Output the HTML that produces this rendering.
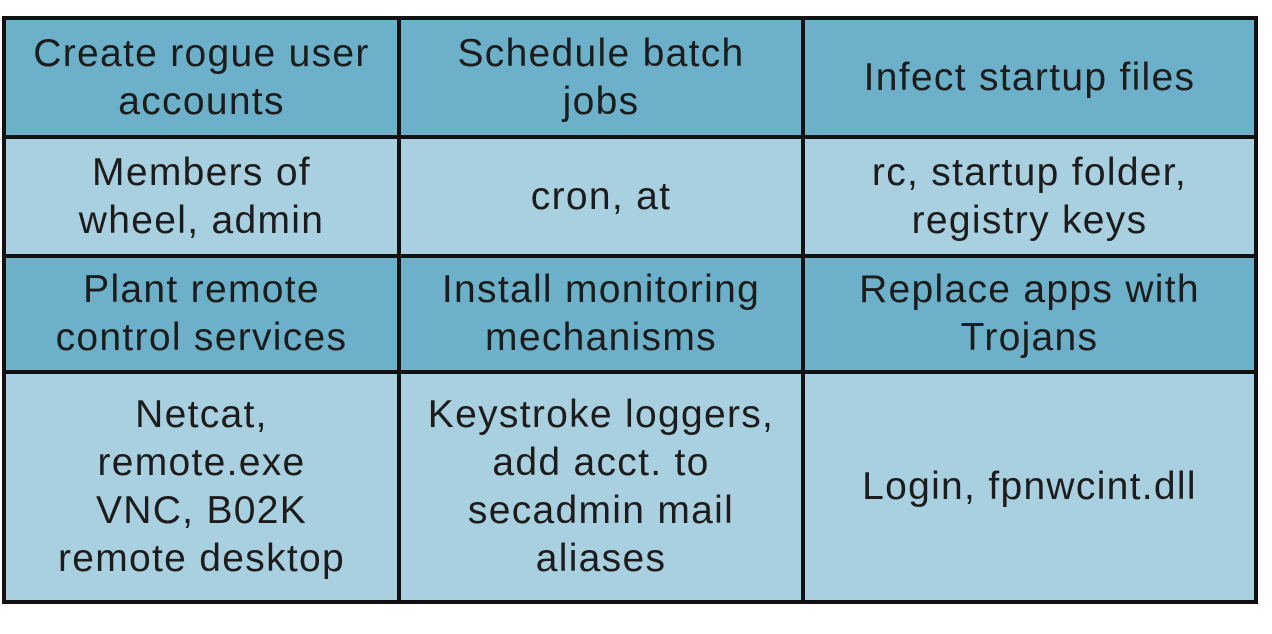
<!DOCTYPE html>
<html><head><style>
html,body{margin:0;padding:0;background:#fff;width:1272px;height:634px;overflow:hidden}
table{position:absolute;left:2px;top:16px;border-collapse:collapse;font-family:"Liberation Sans",sans-serif;font-size:39px;color:#1c1c1c;text-align:center;line-height:48px}
td{border:4px solid #111;padding:0;vertical-align:middle;letter-spacing:1.3px;white-space:nowrap}
tr.h td{background:#6db0ca}
tr.l td{background:#a9d0e1}
</style></head><body>
<table>
<colgroup><col style="width:395px"><col style="width:404px"><col style="width:453px"></colgroup>
<tr class="h" style="height:119px"><td>Create rogue user<br>accounts</td><td>Schedule batch<br>jobs</td><td>Infect startup files</td></tr>
<tr class="l" style="height:119px"><td>Members of<br>wheel, admin</td><td>cron, at</td><td>rc, startup folder,<br>registry keys</td></tr>
<tr class="h" style="height:116px"><td>Plant remote<br>control services</td><td>Install monitoring<br>mechanisms</td><td>Replace apps with<br>Trojans</td></tr>
<tr class="l" style="height:230px"><td>Netcat,<br>remote.exe<br>VNC, B02K<br>remote desktop</td><td>Keystroke loggers,<br>add acct. to<br>secadmin mail<br>aliases</td><td>Login, fpnwcint.dll</td></tr>
</table>
</body></html>
